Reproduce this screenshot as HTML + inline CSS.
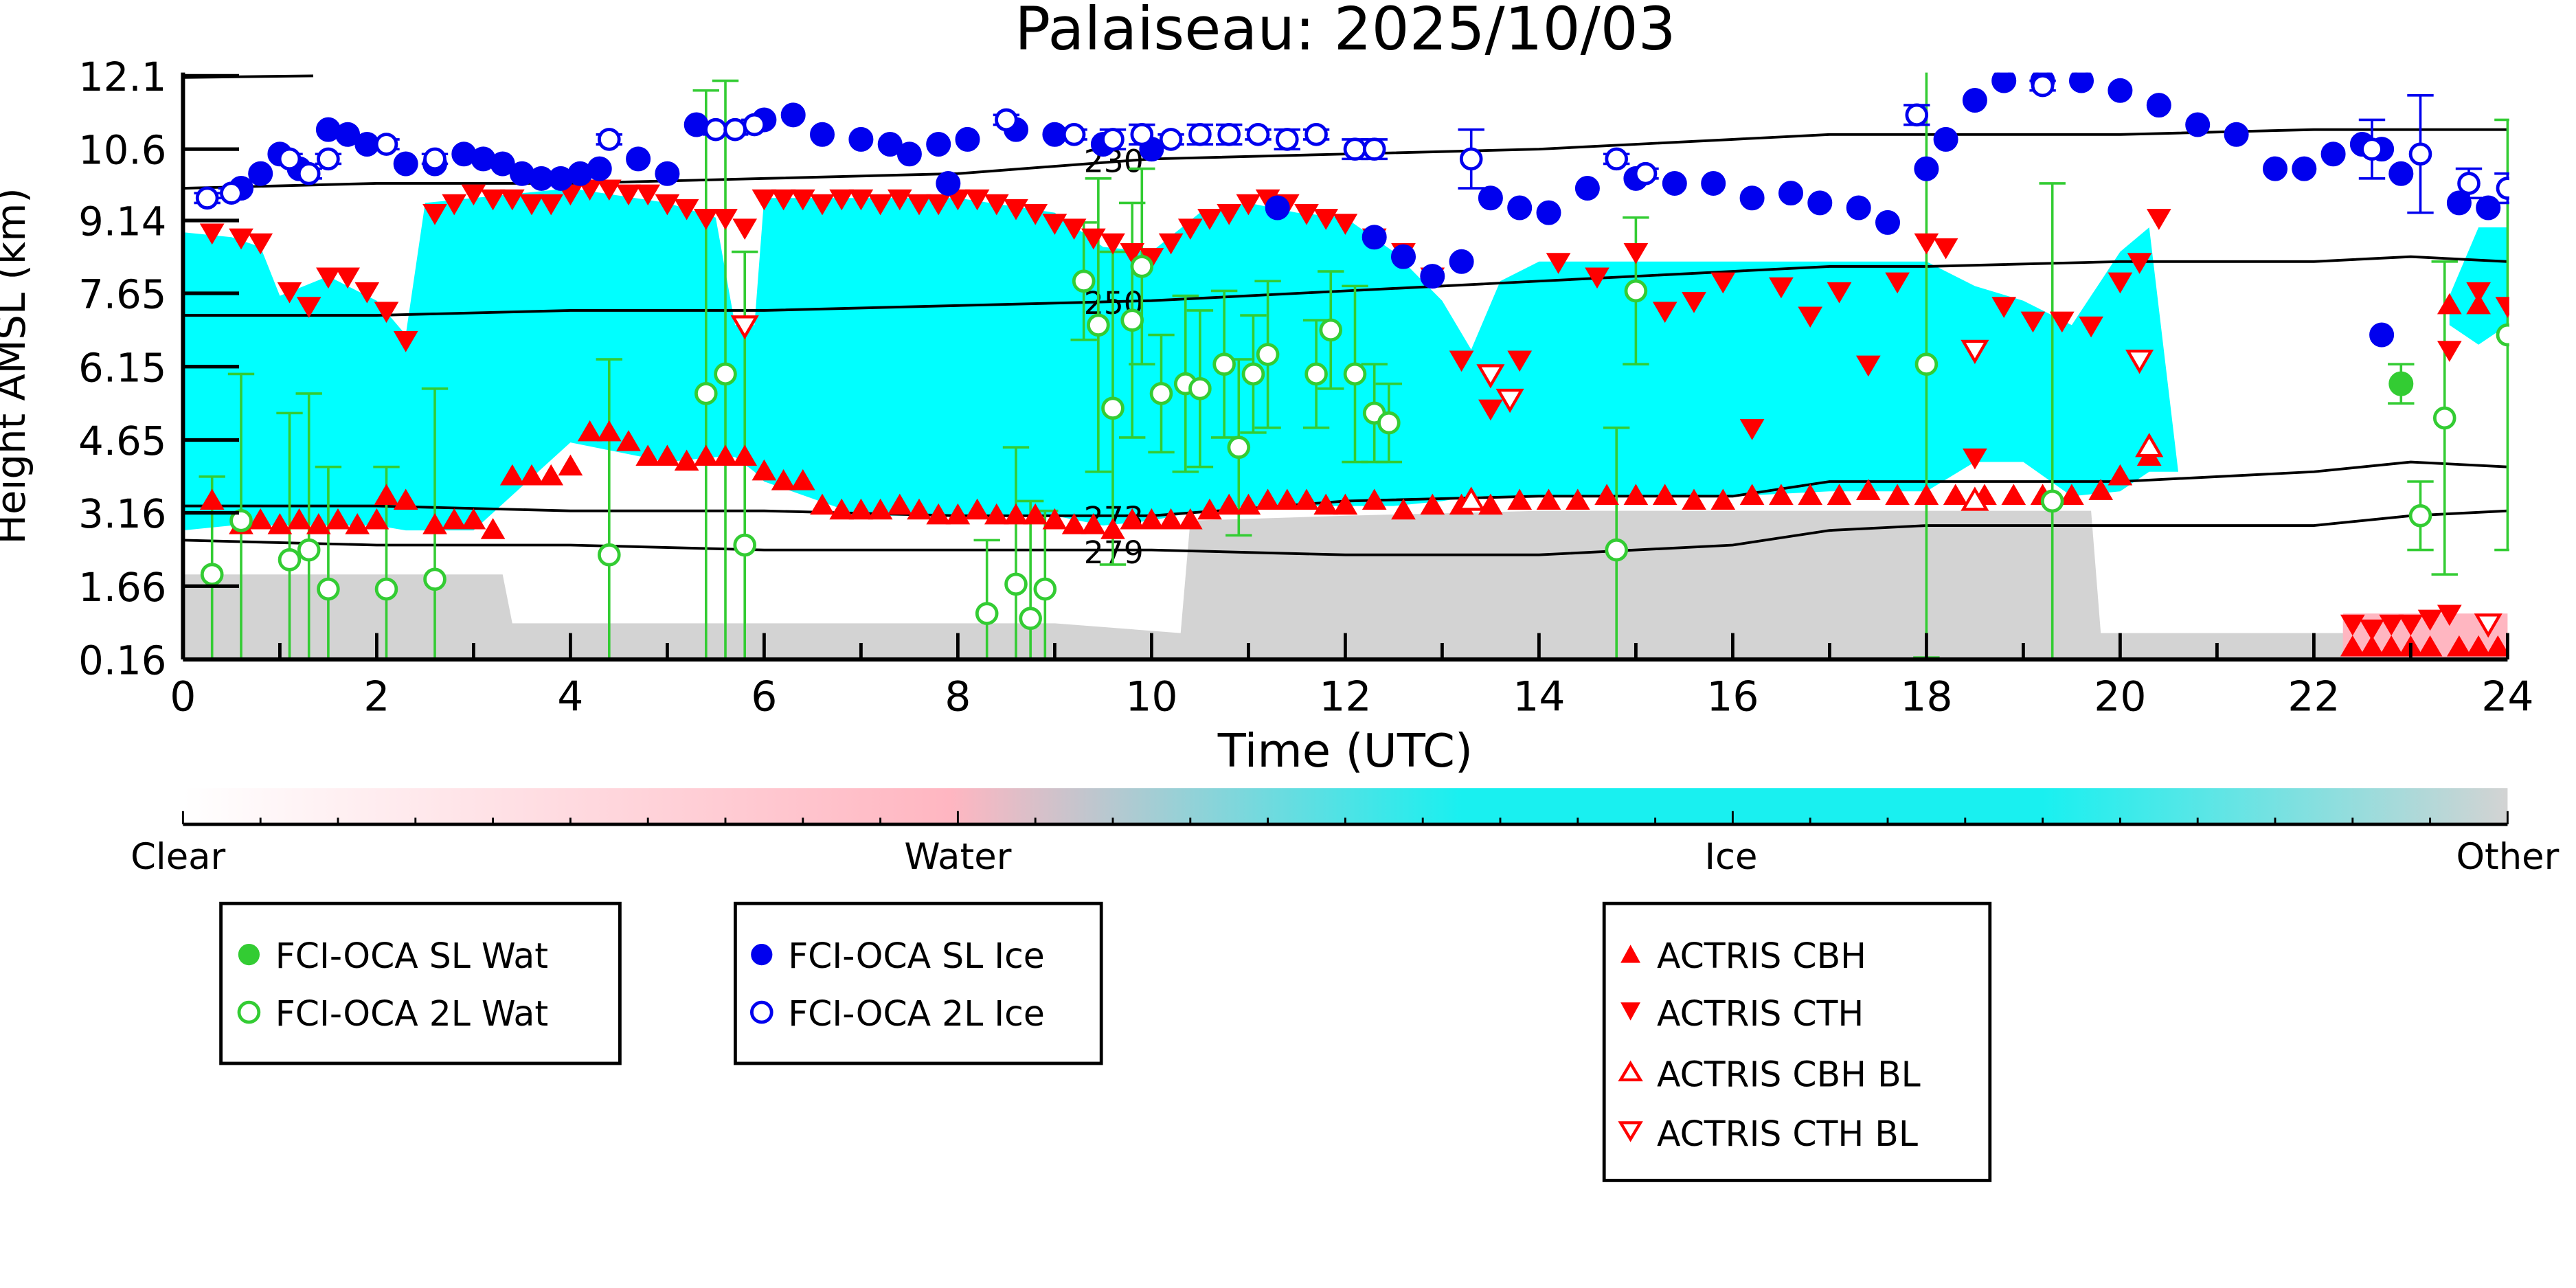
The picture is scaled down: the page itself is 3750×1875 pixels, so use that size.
<!DOCTYPE html>
<html><head><meta charset="utf-8">
<style>
html,body{margin:0;padding:0;background:#fff;}
svg{display:block;}
text{font-family:"DejaVu Sans","Liberation Sans",sans-serif;}
</style></head>
<body>
<svg id="chart" width="3750" height="1875" viewBox="0 0 1562.5 781.25" xmlns="http://www.w3.org/2000/svg">
<defs>
<linearGradient id="cbar" x1="0" x2="1" y1="0" y2="0">
<stop offset="0" stop-color="#ffffff"/>
<stop offset="0.33" stop-color="#ffb6c1"/>
<stop offset="0.55" stop-color="#19f0f0"/>
<stop offset="0.8" stop-color="#19f0f0"/>
<stop offset="1" stop-color="#d3d3d3"/>
</linearGradient>
<clipPath id="plotclip"><rect x="111" y="44" width="1411" height="357"/></clipPath>
</defs>
<text x="816" y="30" font-size="36" text-anchor="middle">Palaiseau: 2025/10/03</text>
<g id="plot" clip-path="url(#plotclip)"></g>
<g id="axes"></g>
<text x="816" y="465" font-size="28" text-anchor="middle">Time (UTC)</text>
<text transform="translate(15,222) rotate(-90)" font-size="24" text-anchor="middle">Height AMSL (km)</text>
<g>
<rect x="111" y="478" width="1410" height="22" fill="url(#cbar)"/>
<line x1="111" y1="500" x2="1521" y2="500" stroke="#000" stroke-width="2"/>
<g id="cbticks"></g>
<text x="108" y="527" font-size="22" text-anchor="middle">Clear</text>
<text x="581" y="527" font-size="22" text-anchor="middle">Water</text>
<text x="1050" y="527" font-size="22" text-anchor="middle">Ice</text>
<text x="1521" y="527" font-size="22" text-anchor="middle">Other</text>
</g>
<g>
<rect x="134" y="548" width="242" height="97" fill="#fff" stroke="#000" stroke-width="2"/>
<circle cx="151" cy="579" r="6.5" fill="#33cc33"/>
<text x="167" y="587" font-size="21">FCI-OCA SL Wat</text>
<circle cx="151" cy="614" r="6" fill="#fff" stroke="#33cc33" stroke-width="2"/>
<text x="167" y="622" font-size="21">FCI-OCA 2L Wat</text>
</g>
<g>
<rect x="446" y="548" width="222" height="97" fill="#fff" stroke="#000" stroke-width="2"/>
<circle cx="462" cy="579" r="6.5" fill="#0000ee"/>
<text x="478" y="587" font-size="21">FCI-OCA SL Ice</text>
<circle cx="462" cy="614" r="6" fill="#fff" stroke="#0000ee" stroke-width="2"/>
<text x="478" y="622" font-size="21">FCI-OCA 2L Ice</text>
</g>
<g>
<rect x="973" y="548" width="234" height="168" fill="#fff" stroke="#000" stroke-width="2"/>
<polygon points="989,573 995,584 983,584" fill="#f00"/>
<text x="1005" y="587" font-size="21">ACTRIS CBH</text>
<polygon points="983,608 995,608 989,619" fill="#f00"/>
<text x="1005" y="622" font-size="21">ACTRIS CTH</text>
<polygon points="989,645 995,655 983,655" fill="none" stroke="#f00" stroke-width="1.8"/>
<text x="1005" y="659" font-size="21">ACTRIS CBH BL</text>
<polygon points="983,681 995,681 989,691" fill="none" stroke="#f00" stroke-width="1.8"/>
<text x="1005" y="695" font-size="21">ACTRIS CTH BL</text>
</g>
<script>
// ---- data ----
const yTicks=[0.16,1.66,3.16,4.65,6.15,7.65,9.14,10.6,12.1];
const xTicks=[0,2,4,6,8,10,12,14,16,18,20,22,24];
const maskT=[0.0,0.5,0.8,1.0,1.5,2.0,2.3,2.5,3.0,4.0,5.0,5.5,5.7,5.9,6.0,7.0,8.0,9.0,9.5,10.0,10.5,11.0,11.5,12.0,12.5,13.0,13.3,13.6,14.0,14.5,15.0,15.5,16.0,17.0,18.0,18.5,19.0,19.5,20.0,20.3,20.6];
const maskTop=[8.9,8.8,8.6,7.6,8.0,7.5,6.8,9.5,9.6,9.8,9.5,9.2,7.0,7.0,9.6,9.6,9.6,9.3,8.6,8.5,9.3,9.5,9.3,9.2,8.5,7.5,6.5,7.9,8.3,8.3,8.3,8.3,8.3,8.3,8.3,7.8,7.5,7.0,8.5,9.0,4.0];
const maskBot=[2.8,2.9,2.9,2.9,2.9,2.9,2.8,2.8,2.8,4.6,4.2,4.3,4.3,4.0,3.8,3.1,3.1,3.1,2.9,3.0,3.2,3.3,3.3,3.3,3.3,3.4,3.5,3.5,3.5,3.5,3.5,3.5,3.5,3.6,3.6,4.2,4.2,3.5,3.6,4.0,4.0];
const lateT=[23.4,23.7,24.0];
const lateTop=[7.6,9.0,9.0];
const lateBot=[7.0,6.6,7.0];
const greyT=[0,3.3,3.4,5.0,9.0,10.3,10.4,12,14,16,18,19.7,19.8,24];
const greyTop=[1.9,1.9,0.9,0.9,0.9,0.7,3.0,3.1,3.2,3.2,3.2,3.2,0.7,0.7];
const isoT=[0,2,4,6,8,10,12,14,16,17,18,20,22,23,24];
const iso230=[9.8,9.9,9.9,10.0,10.1,10.4,10.5,10.6,10.8,10.9,10.9,10.9,11.0,11.0,11.0];
const iso250=[7.2,7.2,7.3,7.3,7.4,7.5,7.7,7.9,8.1,8.2,8.2,8.3,8.3,8.4,8.3];
const iso273=[3.3,3.3,3.2,3.2,3.1,3.1,3.4,3.5,3.5,3.8,3.8,3.8,4.0,4.2,4.1];
const iso279=[2.6,2.5,2.5,2.4,2.4,2.4,2.3,2.3,2.5,2.8,2.9,2.9,2.9,3.1,3.2];
const cbhT=[0.3,0.6,0.8,1.0,1.2,1.4,1.6,1.8,2.0,2.1,2.3,2.6,2.8,3.0,3.2,3.4,3.6,3.8,4.0,4.2,4.4,4.6,4.8,5.0,5.2,5.4,5.6,5.8,6.0,6.2,6.4,6.6,6.8,7.0,7.2,7.4,7.6,7.8,8.0,8.2,8.4,8.6,8.8,9.0,9.2,9.4,9.6,9.8,10.0,10.2,10.4,10.6,10.8,11.0,11.2,11.4,11.6,11.8,12.0,12.3,12.6,12.9,13.2,13.5,13.8,14.1,14.4,14.7,15.0,15.3,15.6,15.9,16.2,16.5,16.8,17.1,17.4,17.7,18.0,18.3,18.6,18.9,19.2,19.5,19.8,20.0,20.3,23.4,23.7];
const cbhH=[3.4,2.9,3.0,2.9,3.0,2.9,3.0,2.9,3.0,3.5,3.4,2.9,3.0,3.0,2.8,3.9,3.9,3.9,4.1,4.8,4.8,4.6,4.3,4.3,4.2,4.3,4.3,4.3,4.0,3.8,3.8,3.3,3.2,3.2,3.2,3.3,3.2,3.1,3.1,3.2,3.1,3.1,3.1,3.0,2.9,2.9,2.8,3.0,3.0,3.0,3.0,3.2,3.3,3.3,3.4,3.4,3.4,3.3,3.3,3.4,3.2,3.3,3.3,3.3,3.4,3.4,3.4,3.5,3.5,3.5,3.4,3.4,3.5,3.5,3.5,3.5,3.6,3.5,3.5,3.5,3.5,3.5,3.5,3.5,3.6,3.9,4.3,7.4,7.4];
const cthT=[0.3,0.6,0.8,1.1,1.3,1.5,1.7,1.9,2.1,2.3,2.6,2.8,3.0,3.2,3.4,3.6,3.8,4.0,4.2,4.4,4.6,4.8,5.0,5.2,5.4,5.6,5.8,6.0,6.2,6.4,6.6,6.8,7.0,7.2,7.4,7.6,7.8,8.0,8.2,8.4,8.6,8.8,9.0,9.2,9.4,9.6,9.8,10.0,10.2,10.4,10.6,10.8,11.0,11.2,11.4,11.6,11.8,12.0,12.3,12.6,12.9,13.2,13.5,13.8,14.2,14.6,15.0,15.3,15.6,15.9,16.2,16.5,16.8,17.1,17.4,17.7,18.0,18.2,18.5,18.8,19.1,19.4,19.7,20.0,20.2,20.4,23.4,23.7,24.0];
const cthH=[8.9,8.8,8.7,7.7,7.4,8.0,8.0,7.7,7.3,6.7,9.3,9.5,9.7,9.6,9.6,9.5,9.5,9.7,9.8,9.8,9.7,9.7,9.5,9.4,9.2,9.2,9.0,9.6,9.6,9.6,9.5,9.6,9.6,9.5,9.6,9.5,9.5,9.6,9.6,9.5,9.4,9.3,9.1,9.0,8.8,8.7,8.5,8.4,8.7,9.0,9.2,9.3,9.5,9.6,9.5,9.3,9.2,9.1,8.8,8.5,8.0,6.3,5.3,6.3,8.3,8.0,8.5,7.3,7.5,7.9,4.9,7.8,7.2,7.7,6.2,7.9,8.7,8.6,4.3,7.4,7.1,7.1,7.0,7.9,8.3,9.2,6.5,7.7,7.4];
const cbhBlT=[13.3,18.5,20.3];
const cbhBlH=[3.4,3.4,4.5];
const cthBlT=[5.8,13.5,13.7,18.5,20.2,23.8];
const cthBlH=[7.0,6.0,5.5,6.5,6.3,0.9];
const cbhLateT=[22.4,22.6,22.8,23.0,23.2,23.5,23.7,23.9];
const cbhLateH=[0.4,0.4,0.4,0.4,0.4,0.4,0.4,0.4];
const cthLateT=[22.4,22.6,22.8,23.0,23.2,23.4];
const cthLateH=[0.9,0.8,0.9,0.9,1.0,1.1];
const iceSLT=[0.6,0.8,1.0,1.2,1.5,1.7,1.9,2.3,2.6,2.9,3.1,3.3,3.5,3.7,3.9,4.1,4.3,4.7,5.0,5.3,6.0,6.3,6.6,7.0,7.3,7.5,7.8,7.9,8.1,8.6,9.0,9.5,10.0,11.3,12.3,12.6,12.9,13.2,13.5,13.8,14.1,14.5,15.0,15.4,15.8,16.2,16.6,16.9,17.3,17.6,18.0,18.2,18.5,18.8,19.2,19.6,20.0,20.4,20.8,21.2,21.6,21.9,22.2,22.5,22.7,22.9,23.5,23.8,22.7];
const iceSLH=[9.8,10.1,10.5,10.2,11.0,10.9,10.7,10.3,10.3,10.5,10.4,10.3,10.1,10.0,10.0,10.1,10.2,10.4,10.1,11.1,11.2,11.3,10.9,10.8,10.7,10.5,10.7,9.9,10.8,11.0,10.9,10.7,10.6,9.4,8.8,8.4,8.0,8.3,9.6,9.4,9.3,9.8,10.0,9.9,9.9,9.6,9.7,9.5,9.4,9.1,10.2,10.8,11.6,12.0,12.0,12.0,11.8,11.5,11.1,10.9,10.2,10.2,10.5,10.7,10.6,10.1,9.5,9.4,6.8];
const ice2LT=[0.25,0.5,1.1,1.3,1.5,2.1,2.6,4.4,5.5,5.7,5.9,8.5,9.2,9.6,9.9,10.2,10.5,10.8,11.1,11.4,11.7,12.1,12.3,13.3,14.8,15.1,17.9,19.2,22.6,23.1,23.6,24.0];
const ice2LH=[9.6,9.7,10.4,10.1,10.4,10.7,10.4,10.8,11.0,11.0,11.1,11.2,10.9,10.8,10.9,10.8,10.9,10.9,10.9,10.8,10.9,10.6,10.6,10.4,10.4,10.1,11.3,11.9,10.6,10.5,9.9,9.8];
const ice2LE=[0.1,0.1,0.1,0.1,0.1,0.1,0.1,0.1,0.1,0.1,0.1,0.1,0.1,0.2,0.2,0.1,0.2,0.2,0.1,0.2,0.1,0.2,0.2,0.6,0.1,0.1,0.2,0.1,0.6,1.2,0.3,0.3];
const wat2LT=[0.3,0.6,1.1,1.3,1.5,2.1,2.6,4.4,5.4,5.6,5.8,8.3,8.6,8.75,8.9,9.3,9.45,9.6,9.8,9.9,10.1,10.35,10.5,10.75,10.9,11.05,11.2,11.7,11.85,12.1,12.3,12.45,14.8,15.0,18.0,19.3,23.1,23.35,24.0];
const wat2LH=[1.9,3.0,2.2,2.4,1.6,1.6,1.8,2.3,5.6,6.0,2.5,1.1,1.7,1.0,1.6,7.9,7.0,5.3,7.1,8.2,5.6,5.8,5.7,6.2,4.5,6.0,6.4,6.0,6.9,6.0,5.2,5.0,2.4,7.7,6.2,3.4,3.1,5.1,6.8];
const wat2LE=[2.0,3.0,3.0,3.2,2.5,2.5,3.9,4.0,6.2,6.0,6.0,1.5,2.8,2.4,1.6,1.2,3.0,3.2,2.4,2.0,1.2,1.8,1.6,1.5,1.8,1.2,1.5,1.1,1.2,1.8,1.0,0.8,2.5,1.5,6.0,6.5,0.7,3.2,4.4];
const watSLT=[22.9];
const watSLH=[5.8];
const watSLE=[0.4];

const X0=111,X1=1521,Y0=400,Y1=46;
const xs=t=>X0+(X1-X0)*t/24;
const ys=h=>Y0-(Y0-Y1)*(h-0.16)/(12.1-0.16);
const NS='http://www.w3.org/2000/svg';
function mk(tag,attrs,parent){const e=document.createElementNS(NS,tag);for(const k in attrs)e.setAttribute(k,attrs[k]);parent.appendChild(e);return e;}
const plot=document.getElementById('plot');
const axes=document.getElementById('axes');

{let d='M'+xs(greyT[0])+','+ys(0.16);greyT.forEach((t,i)=>{d+=' L'+xs(t)+','+ys(greyTop[i]);});d+=' L'+xs(greyT[greyT.length-1])+','+ys(0.16)+'Z';
const p=mk('path',{d:d,fill:'#d3d3d3'},plot);

}
function band(T,top,bot,name){let d='M'+xs(T[0])+','+ys(top[0]);T.forEach((t,i)=>{d+=' L'+xs(t)+','+ys(top[i]);});for(let i=T.length-1;i>=0;i--)d+=' L'+xs(T[i])+','+ys(bot[i]);d+='Z';
const p=mk('path',{d:d,fill:'#00ffff'},plot);

}
band(maskT,maskTop,maskBot,'ice-region');
band(lateT,lateTop,lateBot,'ice-region-late');
{const r=mk('rect',{x:xs(22.3),y:ys(1.1),width:xs(24)-xs(22.3),height:ys(0.16)-ys(1.1),fill:'#ffb6c1'},plot);

}
function iso(arr,label,name){let d='';isoT.forEach((t,i)=>{d+=(i?' L':'M')+xs(t)+','+ys(arr[i]);});
const p=mk('path',{d:d,fill:'none',stroke:'#000','stroke-width':1.6},plot);


const tx=mk('text',{x:xs(9.3),y:ys(arr[5])+8,'font-size':19},plot);tx.textContent=label;

}
iso(iso230,'230','isotherm-230');iso(iso250,'250','isotherm-250');iso(iso273,'273','isotherm-273');iso(iso279,'279','isotherm-279');

function ebar(T,H,E,color,name){T.forEach((t,i)=>{const x=xs(t);const g=mk('g',{stroke:color,'stroke-width':1.5},plot);


mk('line',{x1:x,x2:x,y1:ys(H[i]+E[i]),y2:ys(H[i]-E[i])},g);
mk('line',{x1:x-8,x2:x+8,y1:ys(H[i]+E[i]),y2:ys(H[i]+E[i])},g);
mk('line',{x1:x-8,x2:x+8,y1:ys(H[i]-E[i]),y2:ys(H[i]-E[i])},g);});}
ebar(wat2LT,wat2LH,wat2LE,'#33cc33','water-2l-errorbar');
ebar(watSLT,watSLH,watSLE,'#33cc33','water-sl-errorbar');
ebar(ice2LT,ice2LH,ice2LE,'#0000ee','ice-2l-errorbar');
function tri(T,H,up,filled,name){T.forEach((t,i)=>{const x=xs(t),y=ys(H[i]);const pts=up?`${x},${y-7} ${x+7},${y+5} ${x-7},${y+5}`:`${x-7},${y-5} ${x+7},${y-5} ${x},${y+7}`;
const p=mk('polygon',{points:pts,fill:filled?'#ff0000':'#fff',stroke:'#ff0000','stroke-width':filled?0.5:1.8},plot);

});}
tri(cthT,cthH,false,true,'actris-cth');
tri(cbhT,cbhH,true,true,'actris-cbh');
tri(cthLateT,cthLateH,false,true,'actris-cth');
tri(cbhLateT,cbhLateH,true,true,'actris-cbh');
tri(cbhBlT,cbhBlH,true,false,'actris-cbh-bl');
tri(cthBlT,cthBlH,false,false,'actris-cth-bl');
function circ(T,H,color,filled,name){T.forEach((t,i)=>{
const c=mk('circle',{cx:xs(t),cy:ys(H[i]),r:filled?6.5:6,fill:filled?color:'#fff',stroke:color,'stroke-width':2},plot);

});}
circ(iceSLT,iceSLH,'#0000ee',true,'ice-sl-point');
circ(ice2LT,ice2LH,'#0000ee',false,'ice-2l-point');
circ(wat2LT,wat2LH,'#33cc33',false,'water-2l-point');
circ(watSLT,watSLH,'#33cc33',true,'water-sl-point');

mk('line',{x1:X0,y1:Y0,x2:X1,y2:Y0,stroke:'#000','stroke-width':2.5},axes);
mk('line',{x1:X0,y1:Y0,x2:X0,y2:Y1-2,stroke:'#000','stroke-width':2.5},axes);
mk('line',{x1:X0,y1:47,x2:190,y2:46,stroke:'#000','stroke-width':1.6},axes);
yTicks.forEach(v=>{const y=ys(v);mk('line',{x1:X0,x2:X0+34,y1:y,y2:y,stroke:'#000','stroke-width':2.2},axes);
const t=mk('text',{x:X0-10,y:y+9,'font-size':24,'text-anchor':'end'},axes);t.textContent=v.toFixed(v>=10?1:2);

});
for(let h=0;h<=24;h+=0.5){const x=xs(h);const major=(h%2===0);const len=major?16:(h%1===0?10:0);if(len)mk('line',{x1:x,x2:x,y1:Y0,y2:Y0-len,stroke:'#000','stroke-width':2},axes);}
xTicks.forEach(v=>{const t=mk('text',{x:xs(v),y:Y0+31,'font-size':25,'text-anchor':'middle'},axes);t.textContent=v;

});
const cb=document.getElementById('cbticks');
for(let i=0;i<=30;i++){const x=111+1410*i/30;const len=(i%10===0)?8:4;mk('line',{x1:x,x2:x,y1:500,y2:500-len,stroke:'#000','stroke-width':1.2},cb);}
</script>
</svg>
</body></html>
